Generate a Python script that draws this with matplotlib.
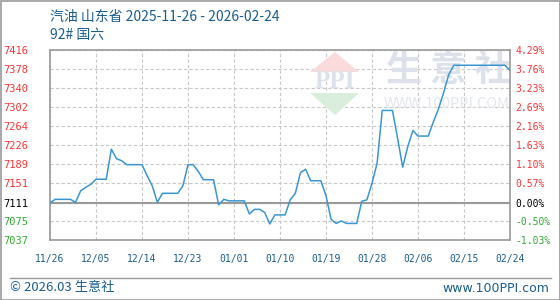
import pandas as pd
import matplotlib.pyplot as plt
import matplotlib.dates as mdates
import matplotlib.patches as mpatches

plt.rcParams["font.family"] = ["Noto Sans CJK SC", "DejaVu Sans"]

# ── Data ───────────────────────────────────────────────────────────────────────
START_DATE = "2025-11-26"
PRICES = [
    7111, 7118, 7118, 7118, 7118, 7112, 7135, 7142, 7148, 7158,
    7158, 7158, 7218, 7199, 7195, 7187, 7187, 7187, 7187, 7165,
    7145, 7112, 7130, 7130, 7130, 7130, 7145, 7187, 7187, 7174,
    7157, 7157, 7157, 7107, 7118, 7115, 7115, 7115, 7115, 7089,
    7098, 7098, 7092, 7069, 7087, 7087, 7087, 7117, 7130, 7171,
    7178, 7155, 7155, 7155, 7125, 7078, 7070, 7075, 7070, 7070,
    7070, 7114, 7117, 7150, 7190, 7295, 7295, 7295, 7240, 7182,
    7223, 7255, 7244, 7244, 7244, 7272, 7298, 7330, 7366, 7385,
    7385, 7385, 7385, 7385, 7385, 7385, 7385, 7385, 7385, 7385,
    7375,
]
BASE = 7111
Y_TICKS = [7037, 7075, 7111, 7151, 7189, 7226, 7264, 7302, 7340, 7378, 7416]
PCT_LABELS = ["-1.03%", "-0.50%", "0.00%", "0.57%", "1.10%", "1.63%",
              "2.16%", "2.69%", "3.23%", "3.76%", "4.29%"]
X_TICK_STEP = 9

TITLE_1 = "汽油 山东省 2025-11-26 - 2026-02-24"
TITLE_2 = "92# 国六"
FOOT_L = "© 2026.03 生意社"
FOOT_R = "www.100PPI.com"

# ── Style ──────────────────────────────────────────────────────────────────────
C_LINE = "#3a96d3"
C_TEXT = "#1a5d8f"
C_UP = "#ff3333"
C_DOWN = "#33aa33"
C_GRID = "#c8c8c8"
C_AXIS = "#9a9a9a"
W, H = 560, 300

dates = pd.date_range(START_DATE, periods=len(PRICES), freq="D")

fig = plt.figure(figsize=(W / 100, H / 100), dpi=100)
fig.patch.set_facecolor("white")
ax = fig.add_axes([50 / W, (H - 240) / H, 460 / W, 190.3 / H])

ax.plot(dates, PRICES, color=C_LINE, linewidth=1.1, zorder=4)
ax.axhline(BASE, color=C_AXIS, linewidth=1.5, zorder=3)

ax.set_xlim(dates[0], dates[-1])
ax.set_ylim(Y_TICKS[0], Y_TICKS[-1])
ax.set_xticks(dates[::X_TICK_STEP])
ax.xaxis.set_major_formatter(mdates.DateFormatter("%m/%d"))
ax.set_yticks(Y_TICKS)
ax.grid(True, color=C_GRID, linestyle=(0, (3, 2)), linewidth=0.8)
ax.set_axisbelow(True)
for s in ax.spines.values():
    s.set_color(C_AXIS)
    s.set_linewidth(1.2)

ax.tick_params(axis="x", length=0, pad=10, labelsize=7, labelcolor=C_TEXT)
ax.tick_params(axis="y", length=0, pad=16, labelsize=7.5)
for lab in ax.get_xticklabels() + ax.get_yticklabels():
    lab.set_family("DejaVu Sans Mono")
for v, lab in zip(Y_TICKS, ax.get_yticklabels()):
    lab.set_color(C_UP if v > BASE else (C_DOWN if v < BASE else "black"))

ax2 = ax.twinx()
ax2.set_ylim(ax.get_ylim())
ax2.set_yticks(Y_TICKS)
ax2.set_yticklabels(PCT_LABELS, family="DejaVu Sans Mono", fontsize=7)
ax2.tick_params(axis="y", length=0, pad=4)
for v, lab in zip(Y_TICKS, ax2.get_yticklabels()):
    lab.set_color(C_UP if v > BASE else (C_DOWN if v < BASE else "black"))
for s in ax2.spines.values():
    s.set_visible(False)

# Watermark (axes coords from pixel positions)
def to_ax(px, py):
    return ((px - 50) / 460, (240 - py) / 190.3)

red_tri = mpatches.Polygon([to_ax(335, 52), to_ax(310, 72), to_ax(359, 72)],
                           closed=True, fc="#fadada", ec="none",
                           transform=ax.transAxes, zorder=1)
green_tri = mpatches.Polygon([to_ax(310, 93), to_ax(359, 93), to_ax(335, 115)],
                             closed=True, fc="#d9eedc", ec="none",
                             transform=ax.transAxes, zorder=1)
ax.add_patch(red_tri)
ax.add_patch(green_tri)
ax.text(*to_ax(335, 82), "PPI", transform=ax.transAxes, ha="center", va="center",
        fontsize=18, fontweight="bold", color="#dde1eb", family="Liberation Serif",
        zorder=1)
ax.text(*to_ax(448, 71), "生 意 社", transform=ax.transAxes, ha="center",
        va="center", fontsize=26, fontweight="bold", color="#dde1eb", zorder=1)
ax.text(*to_ax(447, 104), "WWW.100PPI.COM", transform=ax.transAxes,
        ha="center", va="center", fontsize=10.5, color="#e4e6ed", zorder=1)

# Header / footer
fig.text(50 / W, 1 - 17 / H, TITLE_1, ha="left", va="center",
         fontsize=10, color=C_TEXT)
fig.text(50 / W, 1 - 35 / H, TITLE_2, ha="left", va="center",
         fontsize=10, color=C_TEXT)
fig.add_artist(plt.Line2D([10 / W, 551 / W], [1 - 277.5 / H] * 2,
                          color=C_AXIS, linewidth=1))
fig.text(10 / W, 1 - 288 / H, FOOT_L, ha="left", va="center",
         fontsize=9.5, color=C_TEXT)
fig.text(549 / W, 1 - 288 / H, FOOT_R, ha="right", va="center",
         fontsize=9, color=C_TEXT, family="DejaVu Sans")
fig.add_artist(mpatches.Rectangle((0.5 / W, 0.5 / H), 1 - 1 / W, 1 - 1 / H,
                                  transform=fig.transFigure, fill=False,
                                  ec=C_AXIS, lw=1.2))

fig.savefig("out.png", dpi=100, facecolor="white")
